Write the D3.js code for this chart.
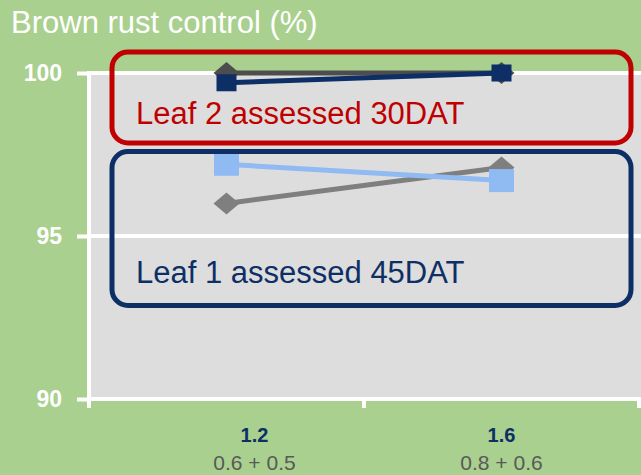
<!DOCTYPE html>
<html lang="en">
<head>
<meta charset="utf-8">
<title>Brown rust control</title>
<script src="https://cdn.jsdelivr.net/npm/d3@7"></script>
<style type="text/css">
body { margin: 0; background: #a9d08e; }
#vis svg { display: block; font-family: "Liberation Sans", Arial, sans-serif; }
</style>
</head>
<body>
<div id="vis"></div>
<script>

/* Data */
/* ==== */

var doses = ['1.2', '1.6'];
var splits = ['0.6 + 0.5', '0.8 + 0.6'];
var yTicks = [90, 95, 100];

var leaf2Ref = [100, 100];     // dark grey diamonds
var leaf2Trt = [99.7, 100];    // navy squares
var leaf1Ref = [96.0, 97.1];   // grey diamonds
var leaf1Trt = [97.2, 96.7];   // light blue squares

var series = [
	{ values: leaf2Ref, color: '#4d4d4d', shape: 'diamond', w: 26, h: 22 },
	{ values: leaf2Trt, color: '#0d2f66', shape: 'square', w: 20, h: 17 },
	{ values: leaf1Ref, color: '#7f7f7f', shape: 'diamond', w: 26, h: 22 },
	{ values: leaf1Trt, color: '#8fbaf2', shape: 'square', w: 25, h: 23 }
];


/* SVG and scales */
/* ============== */

var width = 641, height = 475;

var svg = d3.select('#vis')
	.append('svg')
		.attr('width', width)
		.attr('height', height);

var x = d3.scaleBand().domain(doses).range([89, 639]);
var y = d3.scaleLinear().domain([90, 100]).range([399, 73]);

svg.append('rect')
	.attr('width', width).attr('height', height)
	.attr('fill', '#a9d08e');

// plot area
svg.append('rect')
	.attr('x', x.range()[0]).attr('y', y(100))
	.attr('width', width - x.range()[0]).attr('height', y(90) - y(100))
	.attr('fill', '#dddddd');

// gridlines
svg.append('g')
	.selectAll('line')
	.data(yTicks.filter(function(d) { return d > 90; }))
	.join('line')
		.attr('x1', x.range()[0]).attr('x2', width)
		.attr('y1', function(d) { return y(d); })
		.attr('y2', function(d) { return y(d); })
		.attr('stroke', '#fff').attr('stroke-width', 4);

// y axis
var yAxis = svg.append('g')
	.attr('transform', 'translate(' + x.range()[0] + ',0)')
	.call(d3.axisLeft(y).tickValues(yTicks).tickSize(12).tickPadding(15));

yAxis.select('.domain').remove();
yAxis.selectAll('.tick line').attr('stroke', '#fff').attr('stroke-width', 4);
yAxis.selectAll('.tick text')
	.attr('fill', '#fff')
	.attr('font-size', 23)
	.attr('font-weight', 'bold')
	.attr('font-family', '"Liberation Sans", Arial, sans-serif');

svg.append('line')
	.attr('x1', x.range()[0]).attr('x2', x.range()[0])
	.attr('y1', y(100) - 2).attr('y2', y(90) + 9)
	.attr('stroke', '#fff').attr('stroke-width', 4);

// x axis
svg.append('line')
	.attr('x1', x.range()[0]).attr('x2', width)
	.attr('y1', y(90)).attr('y2', y(90))
	.attr('stroke', '#fff').attr('stroke-width', 4);

svg.append('g')
	.selectAll('line')
	.data(doses)
	.join('line')
		.attr('x1', function(d) { return x(d) + x.bandwidth(); })
		.attr('x2', function(d) { return x(d) + x.bandwidth(); })
		.attr('y1', y(90)).attr('y2', y(90) + 9)
		.attr('stroke', '#fff').attr('stroke-width', 4);

var labelShift = [28, 0];

svg.append('g')
	.selectAll('text')
	.data(doses)
	.join('text')
		.attr('x', function(d, i) { return x(d) + x.bandwidth() / 2 + labelShift[i]; })
		.attr('y', 442)
		.attr('text-anchor', 'middle')
		.attr('font-size', 20)
		.attr('font-weight', 'bold')
		.attr('fill', '#0d2f66')
		.text(function(d) { return d; });

svg.append('g')
	.selectAll('text')
	.data(splits)
	.join('text')
		.attr('x', function(d, i) { return x(doses[i]) + x.bandwidth() / 2 + labelShift[i]; })
		.attr('y', 470)
		.attr('text-anchor', 'middle')
		.attr('font-size', 21)
		.attr('fill', '#595959')
		.text(function(d) { return d; });

// title
svg.append('text')
	.attr('x', 11).attr('y', 33)
	.attr('font-size', 31)
	.attr('fill', '#fff')
	.text('Brown rust control (%)');


/* Series */
/* ====== */

function cx(i) { return x(doses[i]) + x.bandwidth() / 2; }

var line = d3.line()
	.x(function(d, i) { return cx(i); })
	.y(function(d) { return y(d); });

series.forEach(function(s) {

	var g = svg.append('g');

	g.append('path')
		.datum(s.values)
		.attr('d', line)
		.attr('fill', 'none')
		.attr('stroke', s.color)
		.attr('stroke-width', 5);

	if (s.shape === 'square') {
		g.selectAll('rect')
			.data(s.values)
			.join('rect')
				.attr('x', function(d, i) { return cx(i) - s.w / 2; })
				.attr('y', function(d) { return y(d) - s.h / 2; })
				.attr('width', s.w).attr('height', s.h)
				.attr('fill', s.color);
	} else {
		g.selectAll('path.mk')
			.data(s.values)
			.join('path')
				.attr('class', 'mk')
				.attr('d', function(d, i) {
					var px = cx(i), py = y(d), hw = s.w / 2, hh = s.h / 2;
					return 'M' + (px - hw) + ',' + py + 'L' + px + ',' + (py - hh) +
						'L' + (px + hw) + ',' + py + 'L' + px + ',' + (py + hh) + 'Z';
				})
				.attr('fill', s.color);
	}

});


/* Annotations */
/* =========== */

svg.append('rect')
	.attr('x', 112).attr('y', 52)
	.attr('width', 519).attr('height', 91)
	.attr('rx', 16)
	.attr('fill', 'none')
	.attr('stroke', '#c00000')
	.attr('stroke-width', 5);

svg.append('text')
	.attr('x', 136).attr('y', 124)
	.attr('font-size', 31)
	.attr('fill', '#c00000')
	.text('Leaf 2 assessed 30DAT');

svg.append('rect')
	.attr('x', 112).attr('y', 151.5)
	.attr('width', 519).attr('height', 154)
	.attr('rx', 16)
	.attr('fill', 'none')
	.attr('stroke', '#0d2f66')
	.attr('stroke-width', 5);

svg.append('text')
	.attr('x', 136).attr('y', 283)
	.attr('font-size', 31)
	.attr('fill', '#0d2f66')
	.text('Leaf 1 assessed 45DAT');

</script>
</body>
</html>
